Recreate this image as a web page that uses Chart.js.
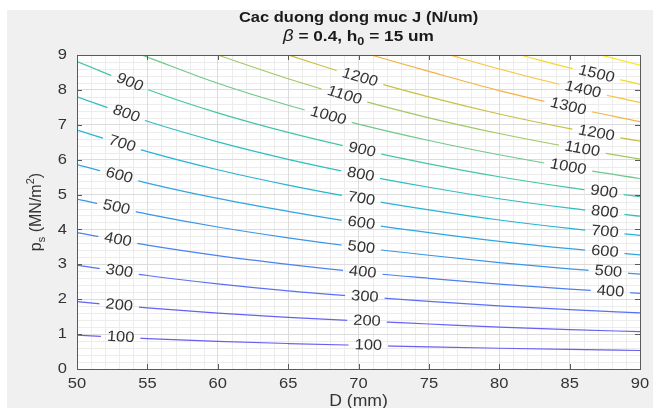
<!DOCTYPE html>
<html>
<head>
<meta charset="utf-8">
<script src="https://cdn.jsdelivr.net/npm/chart.js@4.4.1/dist/chart.umd.min.js"></script>
<style>
  html, body { margin: 0; padding: 0; background: #fff; }
  #wrap { position: relative; width: 653px; height: 408px; overflow: hidden; background: #fff; }
  #fig { position: absolute; left: 7px; top: 10px; right: 0; bottom: 0; background: #f0f0f0; }
  #c { position: absolute; left: 0; top: 0; }
</style>
</head>
<body>
<div id="wrap">
  <div id="fig"></div>
  <canvas id="c" width="653" height="408"></canvas>
</div>
<script>
// Contour levels of J (N/um) and the p_s values of each level line, [D (mm), p_s (MN/m^2)]
const levels = [100, 200, 300, 400, 500, 600, 700, 800, 900, 1000, 1100, 1200, 1300, 1400, 1500, 1600];

const J100  = [[50, 0.97], [55, 0.87], [60, 0.79], [65, 0.73], [70, 0.68], [75, 0.635], [80, 0.595], [85, 0.56], [90, 0.53]];
const J200  = [[50, 1.93], [55, 1.75], [60, 1.60], [65, 1.48], [70, 1.38], [75, 1.29], [80, 1.20], [85, 1.13], [90, 1.07]];
const J300  = [[50, 2.98], [55, 2.68], [60, 2.44], [65, 2.24], [70, 2.08], [75, 1.94], [80, 1.81], [85, 1.70], [90, 1.61]];
const J400  = [[50, 3.91], [55, 3.55], [60, 3.25], [65, 3.00], [70, 2.78], [75, 2.60], [80, 2.43], [85, 2.29], [90, 2.17]];
const J500  = [[50, 4.87], [55, 4.44], [60, 4.07], [65, 3.76], [70, 3.49], [75, 3.26], [80, 3.05], [85, 2.87], [90, 2.72]];
const J600  = [[50, 5.86], [55, 5.33], [60, 4.89], [65, 4.52], [70, 4.19], [75, 3.91], [80, 3.66], [85, 3.45], [90, 3.27]];
const J700  = [[50, 6.85], [55, 6.23], [60, 5.71], [65, 5.27], [70, 4.89], [75, 4.56], [80, 4.27], [85, 4.03], [90, 3.83]];
const J800  = [[50, 7.80], [55, 7.10], [60, 6.51], [65, 6.01], [70, 5.58], [75, 5.21], [80, 4.88], [85, 4.61], [90, 4.38]];
const J900  = [[50, 8.81], [55, 8.01], [60, 7.34], [65, 6.78], [70, 6.30], [75, 5.88], [80, 5.51], [85, 5.20], [90, 4.94]];
const J1000 = [[54.6, 9.0], [55, 8.94], [60, 8.19], [65, 7.56], [70, 7.02], [75, 6.55], [80, 6.14], [85, 5.78], [90, 5.46]];
const J1100 = [[60, 9.0], [65, 8.32], [70, 7.72], [75, 7.20], [80, 6.75], [85, 6.36], [90, 6.02]];
const J1200 = [[65, 9.0], [70, 8.36], [75, 7.80], [80, 7.31], [85, 6.89], [90, 6.53]];
const J1300 = [[70.9, 9.0], [75, 8.53], [80, 7.98], [85, 7.51], [90, 7.09]];
const J1400 = [[76.5, 9.0], [80, 8.60], [85, 8.09], [90, 7.64]];
const J1500 = [[81.5, 9.0], [85, 8.63], [90, 8.16]];
const J1600 = [[87.2, 9.0], [90, 8.71]];

const levelLines = [J100, J200, J300, J400, J500, J600, J700, J800, J900, J1000, J1100, J1200, J1300, J1400, J1500, J1600];

// Where the inline level labels sit along each line: [level, D]
const labelSpots = [
  [100, 53.1], [200, 53.0], [300, 53.0], [400, 52.9], [500, 52.8], [600, 53.0], [700, 53.2], [800, 53.5], [900, 53.75],
  [100, 70.7], [200, 70.6], [300, 70.45], [400, 70.3], [500, 70.2], [600, 70.2], [700, 70.2], [800, 70.15], [900, 70.25],
  [1000, 67.85], [1100, 69.0], [1200, 70.1],
  [400, 87.9], [500, 87.75], [600, 87.5], [700, 87.5], [800, 87.5], [900, 87.45],
  [1000, 84.9], [1100, 85.9], [1200, 86.9], [1300, 84.9], [1400, 85.95], [1500, 86.9]
];

const xTicks = [50, 55, 60, 65, 70, 75, 80, 85, 90];
const yTicks = [0, 1, 2, 3, 4, 5, 6, 7, 8, 9];

// parula-like colours, low level -> high level
const lineColors = [
  '#6a5ef0', '#6462f2', '#5a70f4', '#4b82f0', '#3c94e8', '#2ea6df', '#25b5d3', '#2fbec0',
  '#45c5a6', '#70c889', '#a2c862', '#c9c042', '#f2b444', '#f8c43c', '#f4d932', '#f6ec22'
];

const FONT = '"Liberation Sans", Arial, Helvetica, sans-serif';
const TEXT = '#333333';
const WIDE = 1.1;   // text is a little wider than the plain font

let jChart = null;
let labelBoxes = [];

// rich text: array of {t, font, dy}
function richWidth(ctx, parts) {
  let w = 0;
  parts.forEach(p => { ctx.font = p.font; w += ctx.measureText(p.t).width; });
  return w;
}
function drawRich(ctx, parts, cx, cy, align, sx) {
  ctx.save();
  ctx.translate(cx, cy);
  ctx.scale(sx || WIDE, 1);
  const w = richWidth(ctx, parts);
  let x = align === 'right' ? -w : -w / 2;
  ctx.textAlign = 'left';
  ctx.textBaseline = 'middle';
  parts.forEach(p => {
    ctx.font = p.font;
    ctx.fillText(p.t, x, p.dy || 0);
    x += ctx.measureText(p.t).width;
  });
  ctx.restore();
}

// label anchor and angle from the dataset's own pixel points
function anchorOn(meta, D, xScale) {
  const px = xScale.getPixelForValue(D);
  const pts = meta.data;
  for (let i = 0; i < pts.length - 1; i++) {
    const a = pts[i], b = pts[i + 1];
    if (px >= a.x && px <= b.x) {
      const t = (px - a.x) / (b.x - a.x);
      return { x: px, y: a.y + t * (b.y - a.y), ang: Math.atan2(b.y - a.y, b.x - a.x) };
    }
  }
  return null;
}

const contourPlugin = {
  id: 'contourDecor',
  beforeDraw(chart) {
    const { ctx, chartArea: a, scales } = chart;
    ctx.save();
    ctx.fillStyle = '#ffffff';
    ctx.fillRect(a.left, a.top, a.right - a.left, a.bottom - a.top);
    // minor grid
    ctx.strokeStyle = '#ececec';
    ctx.lineWidth = 1;
    ctx.beginPath();
    for (let v = 50; v <= 90; v += 1) {
      if (v % 5 === 0) continue;
      const x = Math.round(scales.x.getPixelForValue(v)) + 0.5;
      ctx.moveTo(x, a.top); ctx.lineTo(x, a.bottom);
    }
    for (let k = 0; k <= 45; k++) {
      if (k % 5 === 0) continue;
      const y = Math.round(scales.y.getPixelForValue(k / 5)) + 0.5;
      ctx.moveTo(a.left, y); ctx.lineTo(a.right, y);
    }
    ctx.stroke();
    ctx.restore();
  },
  beforeDatasetsDraw(chart) {
    const { ctx, chartArea: a, scales } = chart;
    labelBoxes = [];
    ctx.font = '15px ' + FONT;
    labelSpots.forEach(([lv, D]) => {
      const idx = levels.indexOf(lv);
      const p = anchorOn(chart.getDatasetMeta(idx), D, scales.x);
      if (!p) return;
      const txt = String(lv);
      labelBoxes.push({ txt, x: p.x, y: p.y, ang: p.ang, w: ctx.measureText(txt).width * WIDE + 12, h: 12 });
    });
    // cut the lines where the labels go
    ctx.save();
    ctx.beginPath();
    ctx.rect(a.left, a.top, a.right - a.left, a.bottom - a.top);
    labelBoxes.forEach(b => {
      const c = Math.cos(b.ang), s = Math.sin(b.ang);
      const hw = b.w / 2, hh = b.h / 2;
      const corners = [[-hw, -hh], [hw, -hh], [hw, hh], [-hw, hh]];
      corners.forEach(([u, v], i) => {
        const x = b.x + u * c - v * s, y = b.y + u * s + v * c;
        if (i === 0) ctx.moveTo(x, y); else ctx.lineTo(x, y);
      });
      ctx.closePath();
    });
    ctx.clip('evenodd');
  },
  afterDatasetsDraw(chart) {
    const { ctx } = chart;
    ctx.restore();
    ctx.save();
    ctx.fillStyle = TEXT;
    ctx.font = '15px ' + FONT;
    ctx.textAlign = 'center';
    ctx.textBaseline = 'middle';
    labelBoxes.forEach(b => {
      ctx.save();
      ctx.translate(b.x, b.y);
      ctx.scale(WIDE, 1);
      ctx.rotate(Math.atan2(WIDE * Math.sin(b.ang), Math.cos(b.ang)));
      ctx.fillText(b.txt, 0, 0);
      ctx.restore();
    });
    ctx.restore();
  },
  afterDraw(chart) {
    const { ctx, chartArea: a, scales } = chart;
    ctx.save();
    // box and inward ticks
    ctx.strokeStyle = '#5a5a5a';
    ctx.lineWidth = 1;
    ctx.strokeRect(Math.round(a.left) + 0.5, Math.round(a.top) + 0.5,
      Math.round(a.right - a.left), Math.round(a.bottom - a.top));
    ctx.beginPath();
    xTicks.forEach(v => {
      const x = Math.round(scales.x.getPixelForValue(v)) + 0.5;
      ctx.moveTo(x, a.bottom); ctx.lineTo(x, a.bottom - 5);
      ctx.moveTo(x, a.top); ctx.lineTo(x, a.top + 5);
    });
    yTicks.forEach(v => {
      const y = Math.round(scales.y.getPixelForValue(v)) + 0.5;
      ctx.moveTo(a.left, y); ctx.lineTo(a.left + 5, y);
      ctx.moveTo(a.right, y); ctx.lineTo(a.right - 5, y);
    });
    ctx.stroke();

    // tick labels
    ctx.fillStyle = TEXT;
    const tickFont = '15px ' + FONT;
    xTicks.forEach(v => {
      drawRich(ctx, [{ t: String(v), font: tickFont }], scales.x.getPixelForValue(v), a.bottom + 15);
    });
    yTicks.forEach(v => {
      drawRich(ctx, [{ t: String(v), font: tickFont }], a.left - 10, scales.y.getPixelForValue(v), 'right');
    });

    // title
    const cx = (a.left + a.right) / 2;
    ctx.fillStyle = '#1a1a1a';
    drawRich(ctx, [{ t: 'Cac duong dong muc J (N/um)', font: 'bold 15px ' + FONT }], cx, 18, 'center', 1.1);
    drawRich(ctx, [
      { t: 'β', font: 'italic 16px ' + FONT },
      { t: ' = 0.4, h', font: 'bold 15px ' + FONT },
      { t: '0', font: 'bold 11px ' + FONT, dy: 5 },
      { t: ' = 15 um', font: 'bold 15px ' + FONT }
    ], cx, 37, 'center', 1.15);

    // axis titles
    ctx.fillStyle = TEXT;
    drawRich(ctx, [{ t: 'D (mm)', font: '16px ' + FONT }], cx, 402);
    ctx.translate(37, (a.top + a.bottom) / 2);
    ctx.rotate(-Math.PI / 2);
    drawRich(ctx, [
      { t: 'p', font: '16px ' + FONT },
      { t: 's', font: '11px ' + FONT, dy: 5 },
      { t: ' (MN/m', font: '16px ' + FONT },
      { t: '2', font: '11px ' + FONT, dy: -6 },
      { t: ')', font: '16px ' + FONT }
    ], 0, 0, 'center', 1);
    ctx.restore();
  }
};

const ctx = document.getElementById('c').getContext('2d');
jChart = new Chart(ctx, {
  type: 'line',
  data: {
    datasets: levelLines.map((pts, i) => ({
      label: 'J = ' + levels[i],
      data: pts.map(([d, p]) => ({ x: d, y: p })),
      borderColor: lineColors[i],
      borderWidth: 1.2,
      pointRadius: 0,
      fill: false,
      cubicInterpolationMode: 'monotone'
    }))
  },
  options: {
    responsive: false,
    animation: false,
    layout: { padding: { left: 0, top: 55, right: 13, bottom: 0 } },
    plugins: { legend: { display: false }, tooltip: { enabled: false }, title: { display: false } },
    scales: {
      x: {
        type: 'linear', min: 50, max: 90,
        afterFit: s => { s.height = 39; },
        afterBuildTicks: s => { s.ticks = xTicks.map(v => ({ value: v })); },
        grid: { color: '#dcdcdc', drawTicks: false },
        border: { display: false },
        ticks: { display: false }
      },
      y: {
        type: 'linear', min: 0, max: 9,
        afterFit: s => { s.width = 77; },
        afterBuildTicks: s => { s.ticks = yTicks.map(v => ({ value: v })); },
        grid: { color: '#dcdcdc', drawTicks: false },
        border: { display: false },
        ticks: { display: false }
      }
    }
  },
  plugins: [contourPlugin]
});
</script>
</body>
</html>
